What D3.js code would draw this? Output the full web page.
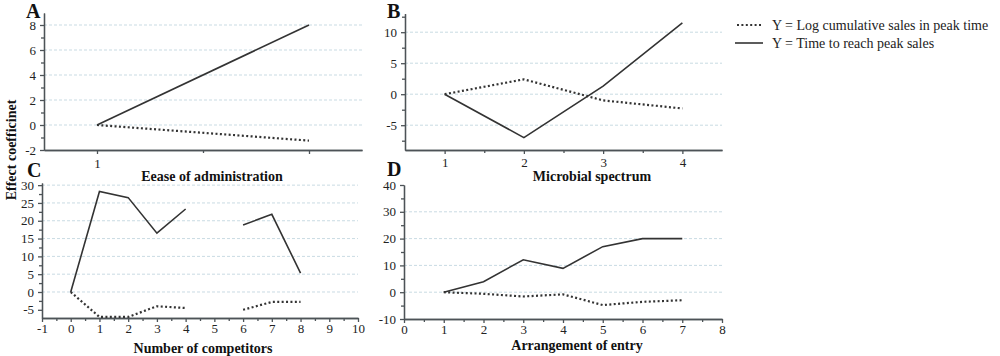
<!DOCTYPE html>
<html><head><meta charset="utf-8">
<script src="https://cdn.jsdelivr.net/npm/d3@7"></script>
<style>
body{margin:0;background:#fff;}
svg{display:block;}
</style></head>
<body>
<script>
// ---------- DATA ----------
const aX = [1, 2];
const aTime = [0, 8];
const aLog = [0, -1.25];
const aXTicks = [1, 2];
const aXTickLabels = ["1", ""];
const aYTicks = [-2, 0, 2, 4, 6, 8];

const bX = [1, 2, 3, 4];
const bTime = [0, -7, 1.3, 11.5];
const bLog = [0, 2.4, -1, -2.3];
const bXTicks = [1, 2, 3, 4];
const bYTicks = [-5, 0, 5, 10];

const cX = [0, 1, 2, 3, 4, 5, 6, 7, 8];
const cTime = [0, 28.2, 26.5, 16.5, 23.3, null, 18.8, 21.8, 5.3];
const cLog = [0, -7, -7, -4, -4.5, null, -5, -2.8, -2.8];
const cXTicks = [-1, 0, 1, 2, 3, 4, 5, 6, 7, 8, 9, 10];
const cYTicks = [-5, 0, 5, 10, 15, 20, 25, 30];

const dX = [1, 2, 3, 4, 5, 6, 7];
const dTime = [0, 3.9, 12.1, 8.9, 17, 20, 20];
const dLog = [0, -0.6, -1.6, -0.8, -4.8, -3.6, -3];
const dXTicks = [0, 1, 2, 3, 4, 5, 6, 7, 8];
const dYTicks = [-10, 0, 10, 20, 30, 40];

const panelLetters = ["A", "B", "C", "D"];
const xTitles = ["Eease of administration", "Microbial spectrum", "Number of competitors", "Arrangement of entry"];
const yTitle = "Effect coefficinet";
const legendLabels = ["Y = Log cumulative sales in peak time", "Y = Time to reach peak sales"];

// ---------- LAYOUT ----------
const W = 1000, H = 356;
const svg = d3.select("body").append("svg").attr("width", W).attr("height", H);
const serif = '"Liberation Serif","Times New Roman",serif';
const gridColor = "#c9dbe3";
const axisColor = "#4d5357";
const lineColor = "#333";
const fmt = d => String(d);

const panels = [
  {letter: panelLetters[0], title: xTitles[0], xs: aX, t: aTime, l: aLog,
   xd: [0.75, 2.25], xr: [44, 362], yd: [-2, 8.96], yr: [150, 13],
   xt: aXTicks, xtl: aXTickLabels, yt: aYTicks, xminor: [1.5], yminor: [-1, 1, 3, 5, 7],
   grid: [0, 2, 4, 6, 8], pad: 5, lx: 26, ly: 18, tx: 212, ty: 181},
  {letter: panelLetters[1], title: xTitles[1], xs: bX, t: bTime, l: bLog,
   xd: [0.5, 4.5], xr: [405, 722], yd: [-9, 13], yr: [150, 13.6],
   xt: bXTicks, xtl: null, yt: bYTicks, xminor: [1.5, 2.5, 3.5], yminor: [-7.5, -2.5, 2.5, 7.5, 12.5],
   grid: [-5, 0, 5, 10], pad: 4, lx: 387, ly: 18, tx: 592, ty: 181},
  {letter: panelLetters[2], title: xTitles[2], xs: cX, t: cTime, l: cLog,
   xd: [-1, 10], xr: [42, 358], yd: [-7.3, 30.6], yr: [318, 183],
   xt: cXTicks, xtl: null, yt: cYTicks,
   xminor: [-0.5, 0.5, 1.5, 2.5, 3.5, 4.5, 5.5, 6.5, 7.5, 8.5, 9.5],
   yminor: [-2.5, 2.5, 7.5, 12.5, 17.5, 22.5, 27.5],
   grid: [0, 5, 10, 15, 20, 25, 30], pad: 2, lx: 27, ly: 177, tx: 203, ty: 353},
  {letter: panelLetters[3], title: xTitles[3], xs: dX, t: dTime, l: dLog,
   xd: [0, 8], xr: [404, 722], yd: [-10, 40], yr: [319, 185],
   xt: dXTicks, xtl: null, yt: dYTicks,
   xminor: [0.5, 1.5, 2.5, 3.5, 4.5, 5.5, 6.5, 7.5], yminor: [-5, 5, 15, 25, 35],
   grid: [0, 10, 20, 30], pad: 2, lx: 387, ly: 176, tx: 577, ty: 350}
];

panels.forEach(p => {
  const x = d3.scaleLinear().domain(p.xd).range(p.xr);
  const y = d3.scaleLinear().domain(p.yd).range(p.yr);
  const g = svg.append("g");

  // grid
  g.selectAll(".grid").data(p.grid).enter().append("line")
    .attr("x1", p.xr[0]).attr("x2", p.xr[1])
    .attr("y1", d => y(d)).attr("y2", d => y(d))
    .attr("stroke", gridColor).attr("stroke-width", 1).attr("stroke-dasharray", "3,2");

  // minor ticks
  const xm = g.append("g").attr("transform", `translate(0,${p.yr[0]})`)
    .call(d3.axisBottom(x).tickValues(p.xminor).tickSize(3).tickFormat("").tickSizeOuter(0));
  const ym = g.append("g").attr("transform", `translate(${p.xr[0]},0)`)
    .call(d3.axisLeft(y).tickValues(p.yminor).tickSize(3).tickFormat("").tickSizeOuter(0));

  // axes
  const xa = d3.axisBottom(x).tickValues(p.xt).tickSize(4).tickPadding(p.pad).tickSizeOuter(0);
  if (p.xtl) xa.tickFormat((d, i) => p.xtl[i]); else xa.tickFormat(fmt);
  const gx = g.append("g").attr("transform", `translate(0,${p.yr[0]})`).call(xa);
  const gy = g.append("g").attr("transform", `translate(${p.xr[0]},0)`)
    .call(d3.axisLeft(y).tickValues(p.yt).tickSize(4).tickPadding(4).tickSizeOuter(0).tickFormat(fmt));
  [xm, ym, gx, gy].forEach(a => {
    a.selectAll("path,line").attr("stroke", axisColor).attr("stroke-width", 1.3);
    a.attr("font-family", serif).attr("font-size", 13);
    a.selectAll("text").attr("fill", "#222").attr("font-family", serif).attr("font-size", 13);
  });

  // lines
  const line = d3.line().defined(d => d[1] !== null).x(d => x(d[0])).y(d => y(d[1]));
  g.append("path").datum(p.xs.map((v, i) => [v, p.l[i]]))
    .attr("d", line).attr("fill", "none").attr("stroke", lineColor)
    .attr("stroke-width", 2.2).attr("stroke-dasharray", "2,2.4");
  g.append("path").datum(p.xs.map((v, i) => [v, p.t[i]]))
    .attr("d", line).attr("fill", "none").attr("stroke", lineColor).attr("stroke-width", 1.6);

  // panel letter
  svg.append("text").attr("x", p.lx).attr("y", p.ly).text(p.letter)
    .attr("font-family", serif).attr("font-weight", "bold").attr("font-size", 20).attr("fill", "#111");
  // x title
  svg.append("text").attr("x", p.tx).attr("y", p.ty).attr("text-anchor", "middle").text(p.title)
    .attr("font-family", serif).attr("font-weight", "bold").attr("font-size", 14).attr("fill", "#111");
});

// y title
svg.append("text").attr("transform", "translate(16,150) rotate(-90)").attr("text-anchor", "middle")
  .text(yTitle).attr("font-family", serif).attr("font-weight", "bold").attr("font-size", 14).attr("fill", "#111");

// legend
const leg = svg.append("g");
leg.append("line").attr("x1", 737).attr("x2", 763).attr("y1", 25).attr("y2", 25)
  .attr("stroke", lineColor).attr("stroke-width", 2.2).attr("stroke-dasharray", "2,2.4");
leg.append("line").attr("x1", 735).attr("x2", 763).attr("y1", 43).attr("y2", 43)
  .attr("stroke", lineColor).attr("stroke-width", 1.6);
leg.selectAll("text").data(legendLabels).enter().append("text")
  .attr("x", 772).attr("y", (d, i) => 30 + i * 18).text(d => d)
  .attr("font-family", serif).attr("font-size", 14).attr("fill", "#222");
</script>
</body></html>
